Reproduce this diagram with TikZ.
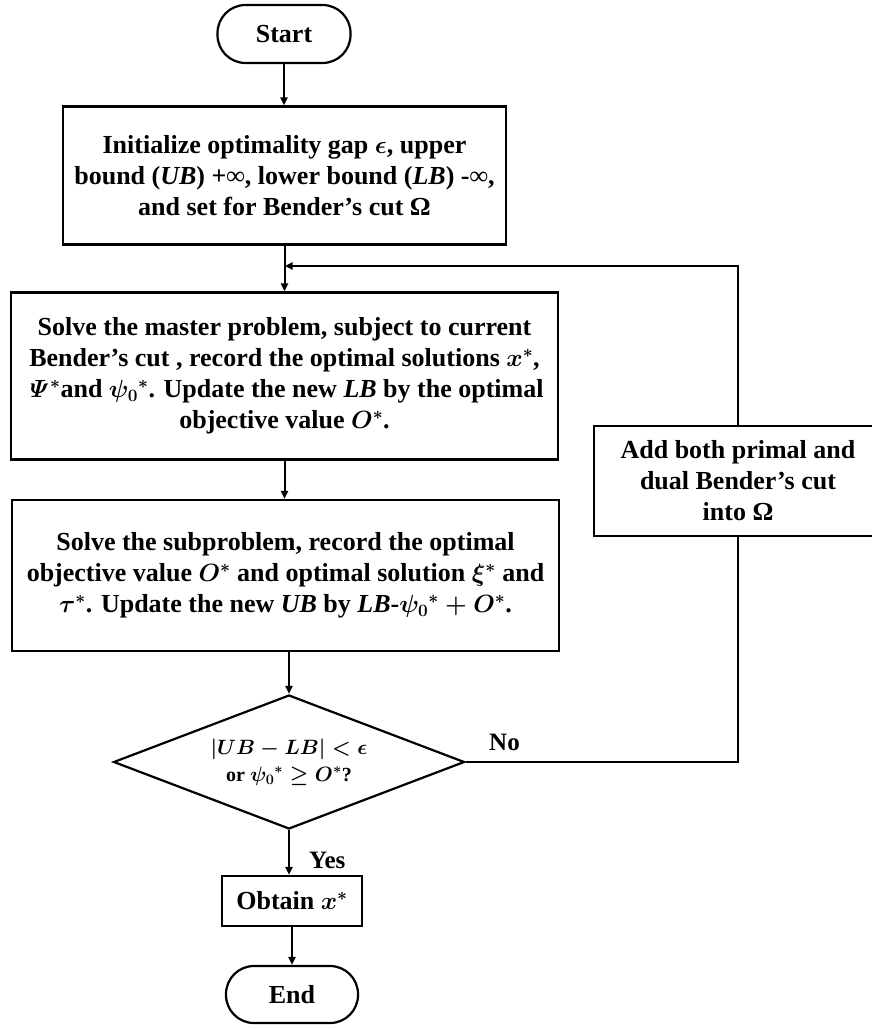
\documentclass[tikz,border=0pt]{standalone}
\usepackage[no-math]{fontspec}
\setmainfont{Liberation Serif}
\usetikzlibrary{shapes.geometric,arrows.meta}
\begin{document}
\begin{tikzpicture}[x=1pt,y=-1pt,
  box/.style={draw,line width=2.2pt,align=center,inner sep=0pt,font=\fontsize{26}{31}\selectfont\bfseries\boldmath},
  term/.style={box,rounded corners=28pt},
  arr/.style={line width=2pt,-{Triangle[length=8pt,width=7pt]}},
  ln/.style={line width=2pt},
  lbl/.style={inner sep=0pt,font=\fontsize{25}{28}\selectfont\bfseries}]
\useasboundingbox (0,0) rectangle (872,1030);
\node[term,minimum width=133pt,minimum height=58pt] (start) at (284,34) {Start};
\node[box,minimum width=443pt,minimum height=138pt] (init) at (284.5,175.5)
  {Initialize optimality gap $\epsilon$, upper\\
   bound (\textit{UB}) +∞, lower bound (\textit{LB}) -∞,\\
   and set for Bender’s cut Ω};
\node[box,minimum width=547pt,minimum height=167pt] (master) at (284.5,376)
  {Solve the master problem, subject to current\\
   Bender’s cut , record the optimal solutions $x^*$,\\
   $\mathit{\Psi}^*$and $\psi_0{}^*$. Update the new \textit{LB} by the optimal\\
   objective value $O^*$.};
\node[box,minimum width=547pt,minimum height=151pt] (sub) at (285.5,575.5)
  {Solve the subproblem, record the optimal\\
   objective value $O^*$ and optimal solution $\xi^*$ and\\
   $\tau^*$. Update the new \textit{UB} by \textit{LB}-$\psi_0{}^*+O^*$.};
\node[box,diamond,aspect=2.62,minimum width=351pt,minimum height=134pt,
  font=\fontsize{20}{27}\selectfont\bfseries\boldmath] (dec) at (289,762)
  {$|UB-LB|<\epsilon$\\ or $\psi_0{}^*\geq O^*$?};
\node[box,minimum width=140pt,minimum height=50pt] (obtain) at (292,901) {Obtain $x^*$};
\node[term,minimum width=132pt,minimum height=57pt] (end) at (292,994.5) {End};
\node[box,minimum width=288pt,minimum height=110pt] (add) at (738,481)
  {Add both primal and\\ dual Bender’s cut\\ into Ω};
\coordinate (fb) at (284.5,266);
\coordinate (nc) at (738,762);
\draw[arr] (start.south) -- (start.south |- init.north);
\draw[arr] (init.south) -- (init.south |- master.north);
\draw[arr] (master.south) -- (master.south |- sub.north);
\draw[arr] (dec.north |- sub.south) -- (dec.north);
\draw[arr] (dec.south) -- (dec.south |- obtain.north);
\draw[arr] (obtain.south) -- (end.north);
\draw[ln] (dec.east) -- (nc) -- (add.south);
\draw[arr] (add.north) |- (fb);
\node[lbl,anchor=west] (yes) at (309,860) {Yes};
\node[lbl,anchor=west] (no) at (489,742) {No};
\end{tikzpicture}
\end{document}
